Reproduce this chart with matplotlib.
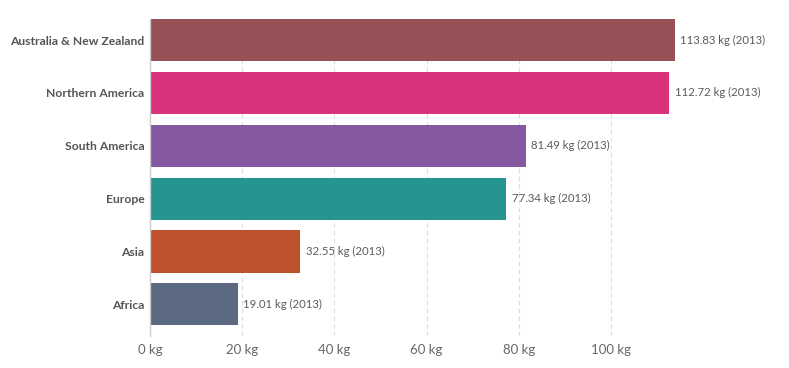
import matplotlib.pyplot as plt
import numpy as np

plt.rcParams['font.family'] = ['Lato', 'DejaVu Sans']

regions = ["Australia & New Zealand", "Northern America", "South America",
           "Europe", "Asia", "Africa"]
values = [113.83, 112.72, 81.49, 77.34, 32.55, 19.01]
years = [2013, 2013, 2013, 2013, 2013, 2013]
colors = ["#975055", "#d8327a", "#8459a0", "#25968f", "#bf522d", "#5b6a80"]
xticks = [0, 20, 40, 60, 80, 100]

fig = plt.figure(figsize=(7.89, 3.68), dpi=100)
ax = fig.add_axes([150/789, 32/368, 553/789, 317/368])

y = np.arange(len(regions))
ax.barh(y, values, height=0.8, color=colors)
for yi, v, yr in zip(y, values, years):
    ax.text(v + 1.2, yi, f"{v:.2f} kg ({yr})", va="center", ha="left",
            fontsize=8.2, color="#5b5b5b")

ax.set_ylim(5.6, -0.4)
ax.set_xlim(0, 120)
ax.set_yticks(y)
ax.set_yticklabels(regions, fontsize=8.7, fontweight="bold", color="#555555")
ax.set_xticks(xticks)
ax.set_xticklabels([f"{t} kg" for t in xticks], fontsize=9.5, color="#666666")
ax.tick_params(axis="both", length=0, pad=6)
ax.tick_params(axis="y", pad=4)

for t in xticks[1:]:
    ax.axvline(t, color="#dddddd", linestyle=(0, (4, 3)), linewidth=0.8, zorder=0)

for s in ["top", "right", "bottom"]:
    ax.spines[s].set_visible(False)
ax.spines["left"].set_color("#cccccc")
ax.spines["left"].set_linewidth(1)

fig.savefig("out.png", dpi=100)
